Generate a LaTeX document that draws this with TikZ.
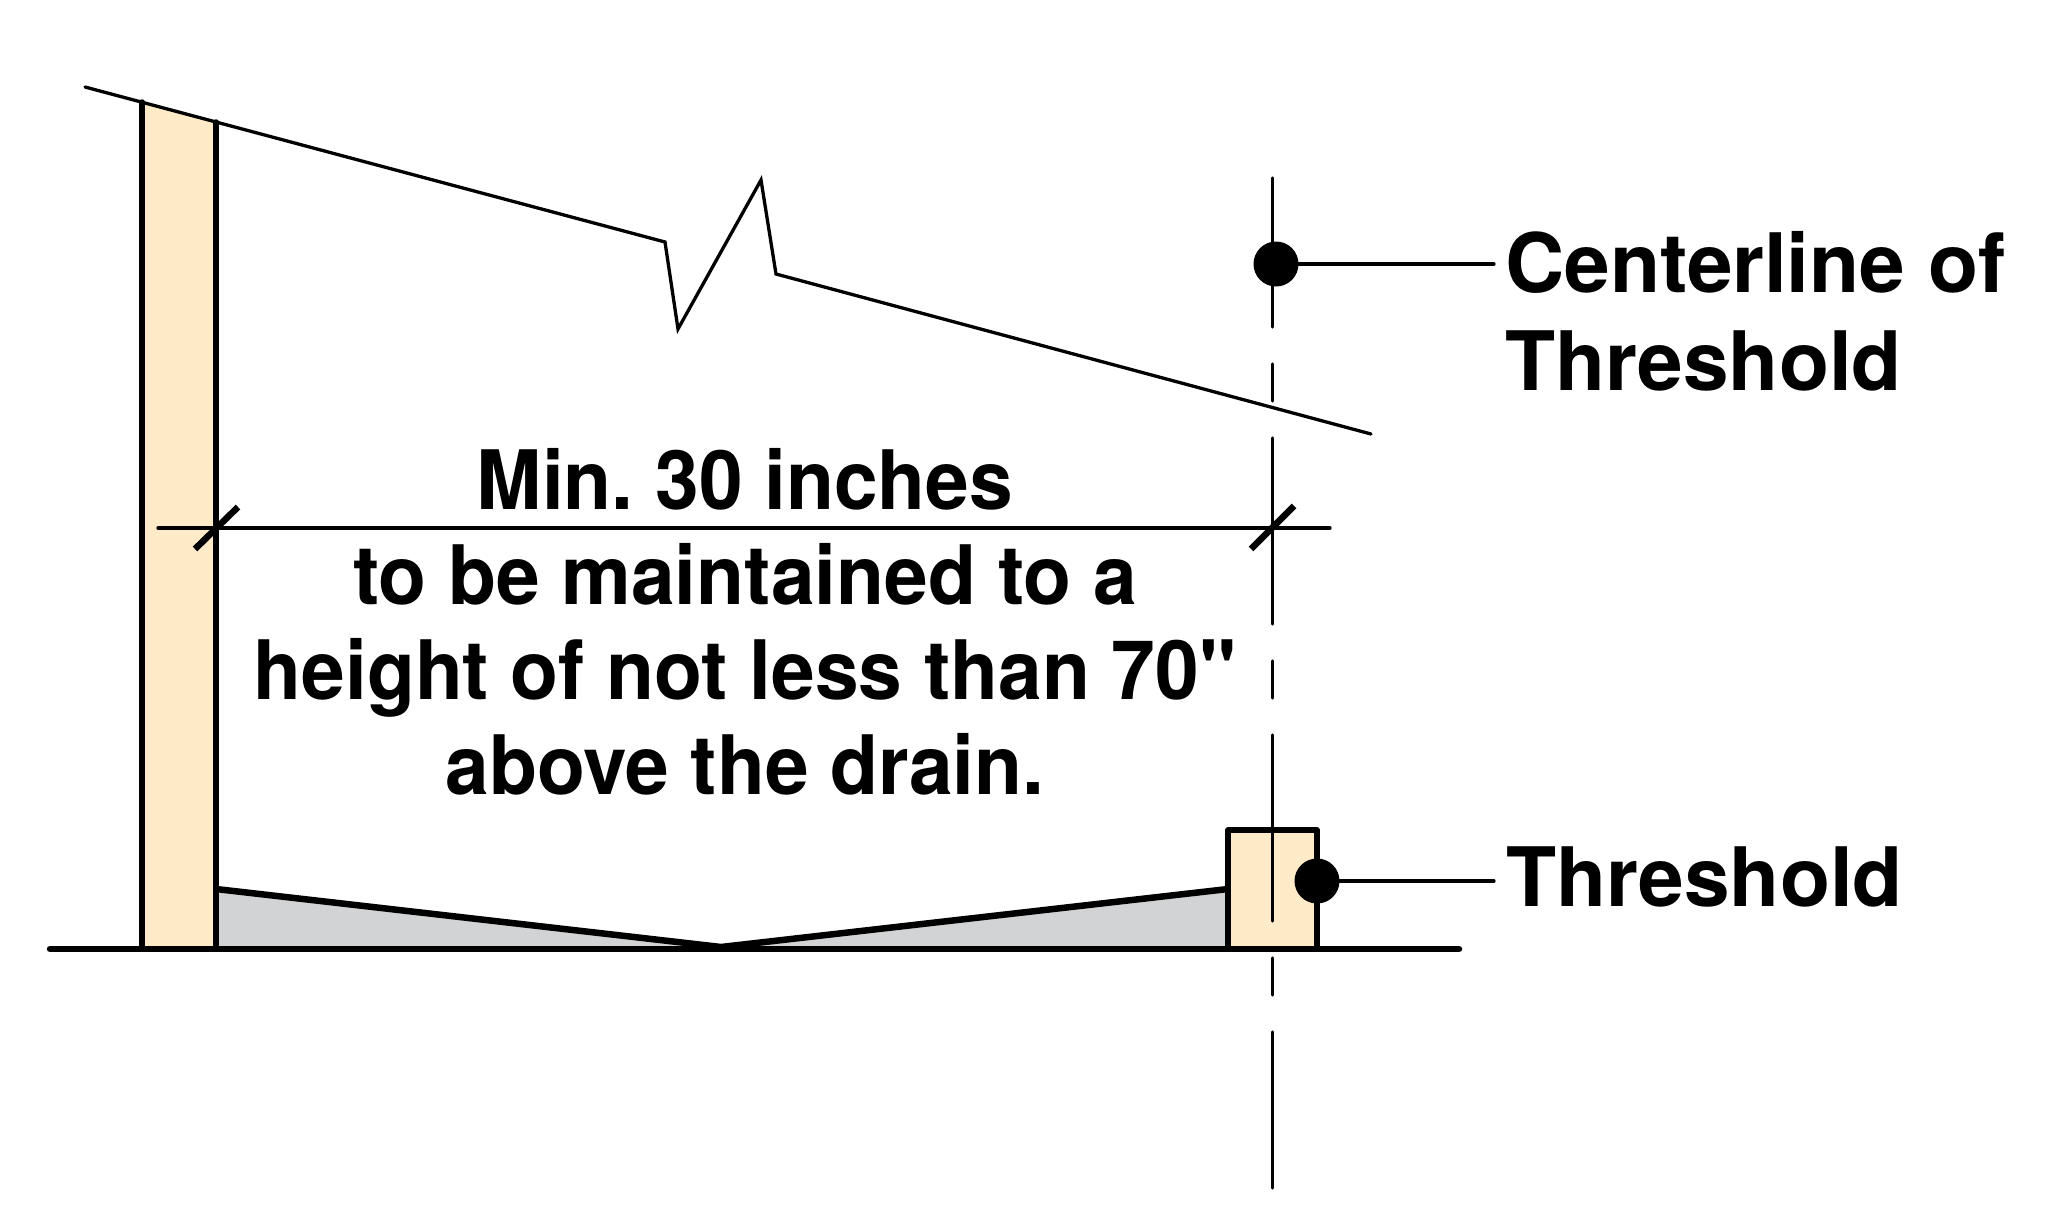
\documentclass[tikz,border=0pt]{standalone}
\usepackage{fontspec}
\setmainfont{TeX Gyre Heros}
\newfontfamily\notefont[FakeStretch=0.957]{TeX Gyre Heros}
\definecolor{woodfill}{HTML}{FFEBC8}
\definecolor{slopefill}{HTML}{D1D3D4}
\tikzset{
  thinline/.style={line width=3.3pt,line cap=round,line join=miter},
  wallline/.style={line width=5.5pt,line cap=round,line join=round},
  floorline/.style={line width=6.5pt,line cap=round},
  slopeline/.style={line width=6.5pt,line cap=butt,line join=miter},
  tickline/.style={line width=6.5pt,line cap=butt},
  centerdash/.style={line width=3.3pt,line cap=round,dash pattern=on 186pt off 37pt on 37pt off 37pt,dash phase=37pt},
  dotmark/.style={circle,fill=black,minimum size=45pt,inner sep=0pt},
  labeltext/.style={font=\bfseries\fontsize{82}{98}\selectfont,inner sep=0pt,align=left},
  notetext/.style={font=\notefont\bfseries\frenchspacing\fontsize{82}{95.2}\selectfont,inner sep=0pt,align=center}
}
\begin{document}
\begin{tikzpicture}[x=1pt,y=-1pt]
\useasboundingbox (0,0) rectangle (2048,1229);
\fill[white] (0,0) rectangle (2048,1229);
% named points
\coordinate (roofA) at (85,87);
\coordinate (roofB) at (665,242);
\coordinate (roofC) at (678,329);
\coordinate (roofD) at (761,180);
\coordinate (roofE) at (776,274);
\coordinate (roofF) at (1371,434);
\coordinate (wallTL) at (142,102);
\coordinate (wallTR) at (216,122);
\coordinate (wallBL) at (142,949);
\coordinate (wallBR) at (216,949);
\coordinate (slopeL) at (216,889);
\coordinate (apex) at (721,947);
\coordinate (slopeR) at (1228,889);
\coordinate (boxBL) at (1228,949);
\coordinate (boxTL) at (1228,830);
\coordinate (boxTR) at (1317,830);
\coordinate (boxBR) at (1317,949);
\coordinate (floorL) at (50,949);
\coordinate (floorR) at (1459,949);
\coordinate (clTop) at (1272.6,178);
\coordinate (clBot) at (1272.6,1188);
\coordinate (dimL) at (158,528);
\coordinate (dimR) at (1330,528);
\coordinate (tickAa) at (195,549);
\coordinate (tickAb) at (238,507);
\coordinate (tickBa) at (1251,549);
\coordinate (tickBb) at (1294,506);
\coordinate (leadC) at (1494,264);
\coordinate (leadT) at (1494,881);
% fills
\fill[woodfill] (wallTL) -- (wallTR) -- (wallBR) -- (wallBL) -- cycle;
\fill[slopefill] (slopeL) -- (apex) -- (slopeR) -- (boxBL) -- (wallBR) -- cycle;
\fill[woodfill] (boxBL) -- (boxTL) -- (boxTR) -- (boxBR) -- cycle;
% roof
\draw[thinline] (roofA) -- (roofB) -- (roofC) -- (roofD) -- (roofE) -- (roofF);
% centre line
\draw[centerdash] (clTop) -- (clBot);
% wall
\draw[wallline] (wallTL) -- (wallBL);
\draw[wallline] (wallTR) -- (wallBR);
% slope
\draw[slopeline] (slopeL) -- (apex) -- (slopeR);
% threshold
\draw[wallline,line join=round] (boxBL) -- (boxTL) -- (boxTR) -- (boxBR);
% floor
\draw[floorline] (floorL) -- (floorR);
% dimension
\draw[thinline] (dimL) -- (dimR);
\draw[tickline] (tickAa) -- (tickAb);
\draw[tickline] (tickBa) -- (tickBb);
% labels and leaders
\node[dotmark] (cdot) at (1276,264) {};
\node[dotmark] (tdot) at (1317,881) {};
\draw[thinline] (cdot) -- (leadC);
\draw[thinline] (tdot) -- (leadT);
\node[labeltext,anchor=west] (clabel) at (1505,311) {Centerline of\\Threshold};
\node[labeltext,anchor=base west] (tlabel) at (1506,906) {Threshold};
\node[notetext] (note) at (745,622) {Min. 30 inches\\to be maintained to a\\height of not less than 70"\\above the drain.};
\end{tikzpicture}
\end{document}
